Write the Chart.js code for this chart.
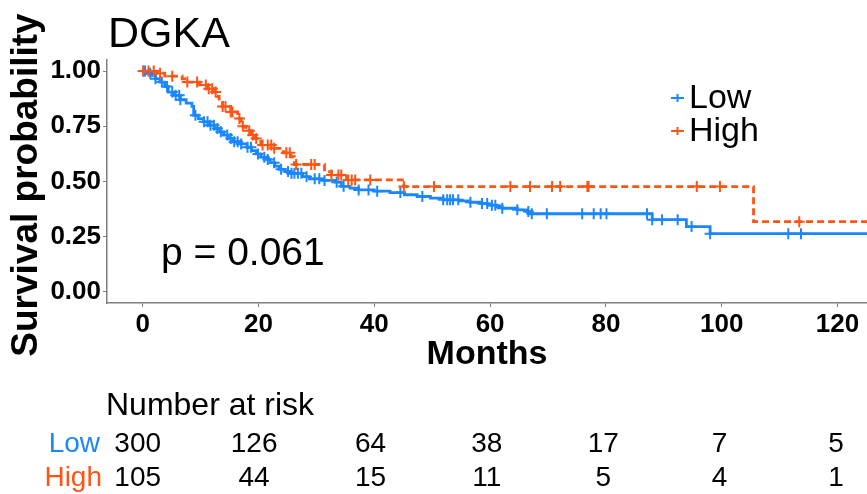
<!DOCTYPE html>
<html>
<head>
<meta charset="utf-8">
<script src="https://cdn.jsdelivr.net/npm/chart.js@4/dist/chart.umd.min.js"></script>
<style>
  html, body { margin: 0; padding: 0; background: #ffffff; overflow: hidden; }
  #wrap { position: relative; width: 867px; height: 494px; }
</style>
</head>
<body>
<div id="wrap"><canvas id="km" width="867" height="494"></canvas></div>
<script>
// ---- Kaplan-Meier data for DGKA expression groups ----
const geneName = 'DGKA';
const pValueLabel = 'p = 0.061';
const groupNames = ['Low', 'High'];

// Low group: event times (months) and survival after each step
const lowTimes = [0, 0.8, 1.5, 2.2, 3, 3.8, 4.4, 5.4, 6.5, 7.5, 8.5, 8.8, 9.6, 10.5, 11.5, 12.4, 13.3, 14, 14.8, 15.6,
  16.8, 18, 18.8, 19.6, 20.4, 21.3, 22, 22.8, 23.6, 24.6, 25.5, 27.6, 28.8, 31, 33.2, 34.3, 35.8, 37.3, 40, 42.7,
  45.2, 47.4, 49.7, 51.9, 54.6, 56.5, 58.3, 59.6, 61.1, 62.1, 64.7, 66.3, 66.9, 88, 93.9, 98, 126];
const lowSurv = [1.0, 0.99, 0.98, 0.965, 0.95, 0.93, 0.905, 0.89, 0.87, 0.855, 0.84, 0.80, 0.785, 0.77, 0.755, 0.74, 0.725, 0.71, 0.695, 0.68,
  0.67, 0.655, 0.64, 0.625, 0.61, 0.60, 0.585, 0.57, 0.555, 0.545, 0.537, 0.522, 0.512, 0.505, 0.497, 0.478, 0.47, 0.462, 0.456, 0.45,
  0.44, 0.432, 0.425, 0.417, 0.412, 0.406, 0.40, 0.393, 0.386, 0.379, 0.372, 0.364, 0.354, 0.327, 0.296, 0.264, 0.264];
const lowCensored = [0.1, 0.4, 1.3, 2.2, 3.3, 4.2, 5.1, 5.7, 6.3, 6.5, 9.1, 10.6, 11.2, 11.7, 12.3, 12.9, 13.5, 14.6, 15.2, 15.8,
  16.4, 17, 18.1, 18.7, 19.9, 21, 21.6, 22.7, 23.9, 25.1, 25.7, 26.2, 26.8, 27.4, 28.3, 29.7, 30.5, 31.4, 33.5, 34.7,
  37.3, 39, 40.5, 44.5, 48.3, 51.9, 52.6, 53.1, 53.6, 54.5, 56.6, 58.6, 59.5, 60.3, 60.9, 62.1, 64.7, 66.6, 67.2, 69.8,
  75.9, 77.9, 79.1, 80.1, 87.1, 88, 89.7, 92.4, 94.8, 98, 111.5, 113.7];

// High group
const highTimes = [0, 2.5, 3.8, 6.8, 7.7, 9.8, 11.2, 12.2, 12.8, 13.2, 13.8, 15.2, 16.4, 17, 17.8, 18.7, 19.3, 20.4, 22.7, 24.3,
  25.6, 26.2, 31.4, 32.6, 35.2, 45.1, 105.5, 126];
const highSurv = [1.0, 0.99, 0.977, 0.965, 0.95, 0.937, 0.92, 0.905, 0.885, 0.865, 0.84, 0.815, 0.785, 0.75, 0.73, 0.71, 0.695, 0.665, 0.65, 0.63,
  0.612, 0.577, 0.545, 0.529, 0.507, 0.477, 0.318, 0.318];
const highCensored = [0.1, 1, 1.9, 3, 5.1, 7.7, 9.4, 10.9, 11.4, 12, 12.6, 13.8, 14.3, 15.2, 15.5, 16.7, 17.3, 18.4, 19, 19.6,
  20.7, 21.6, 22.2, 22.7, 24.8, 25.4, 26.5, 29.1, 29.7, 32.6, 33.8, 34.3, 35.5, 36.1, 36.7, 39.3, 45.1, 50.3,
  63.5, 66.9, 70.7, 72.1, 76.8, 77, 95.7, 99.7, 113.4];

// Axis ticks
const xTicks = [0, 20, 40, 60, 80, 100, 120];
const yTicks = [0, 0.25, 0.5, 0.75, 1.0];

// Number at risk at each x tick
const lowAtRisk = [300, 126, 64, 38, 17, 7, 5];
const highAtRisk = [105, 44, 15, 11, 5, 4, 1];

const lowColor = '#1a87ff';
const highColor = '#ff5514';
const axisColor = '#7f7f7f';
const FONT = "'Liberation Sans', Arial, sans-serif";

// survival value of a step curve at time t
function survAt(times, surv, t) {
  let s = surv[0];
  for (let i = 0; i < times.length; i++) { if (times[i] <= t) s = surv[i]; else break; }
  return s;
}
const toPoints = (xs, ys) => xs.map((x, i) => ({ x: x, y: ys[i] }));
const censorPoints = (cs, times, surv) => cs.map(t => ({ x: t, y: survAt(times, surv, t) }));

const annotations = {
  id: 'kmText',
  afterDraw(chart) {
    const ctx = chart.ctx;
    const xs = chart.scales.x;
    const area = chart.chartArea;
    ctx.save();
    ctx.fillStyle = '#000';
    ctx.textBaseline = 'alphabetic';

    // title
    ctx.font = `43px ${FONT}`;
    ctx.textAlign = 'left';
    ctx.fillText(geneName, 108, 47);

    // p-value
    ctx.font = `39px ${FONT}`;
    ctx.fillText(pValueLabel, 161, 265);

    // y axis title
    ctx.save();
    ctx.translate(37, 185);
    ctx.rotate(-Math.PI / 2);
    ctx.font = `bold 37px ${FONT}`;
    ctx.textAlign = 'center';
    ctx.fillText('Survival probability', 0, 0);
    ctx.restore();

    // x axis title
    ctx.font = `bold 34px ${FONT}`;
    ctx.textAlign = 'center';
    ctx.fillText('Months', (area.left + area.right) / 2, 364);

    // legend
    const legend = [[groupNames[0], lowColor, 98], [groupNames[1], highColor, 131]];
    legend.forEach(([name, col, y]) => {
      ctx.strokeStyle = col;
      ctx.lineWidth = 2;
      ctx.beginPath();
      ctx.moveTo(671, y); ctx.lineTo(684, y);
      ctx.moveTo(677.5, y - 4); ctx.lineTo(677.5, y + 4);
      ctx.stroke();
      ctx.fillStyle = '#000';
      ctx.font = `34px ${FONT}`;
      ctx.textAlign = 'left';
      ctx.textBaseline = 'middle';
      ctx.fillText(name, 689, y + 1);
    });

    // number at risk table (columns follow the time axis)
    ctx.textBaseline = 'alphabetic';
    ctx.font = `32px ${FONT}`;
    ctx.textAlign = 'left';
    ctx.fillStyle = '#000';
    ctx.fillText('Number at risk', 106, 415);

    ctx.font = `28px ${FONT}`;
    ctx.textAlign = 'right';
    ctx.fillStyle = lowColor;
    ctx.fillText(groupNames[0], 100, 452);
    ctx.fillStyle = highColor;
    ctx.fillText(groupNames[1], 102, 486);

    ctx.fillStyle = '#000';
    ctx.textAlign = 'center';
    const x0 = xs.getPixelForValue(0);
    xTicks.forEach((t, i) => {
      const px = x0 - 5 + (xs.getPixelForValue(t) - x0) * 1.005;
      ctx.fillText(String(lowAtRisk[i]), px, 452);
      ctx.fillText(String(highAtRisk[i]), px, 486);
    });
    ctx.restore();
  }
};

new Chart(document.getElementById('km'), {
  type: 'line',
  data: {
    datasets: [
      {
        label: groupNames[0], data: toPoints(lowTimes, lowSurv),
        borderColor: lowColor, borderWidth: 2.8, stepped: 'before', pointRadius: 0, fill: false, clip: false, order: 4
      },
      {
        label: groupNames[0] + ' censored', data: censorPoints(lowCensored, lowTimes, lowSurv),
        showLine: false, pointStyle: 'cross', pointRadius: 5.5, pointBorderWidth: 2,
        borderColor: lowColor, pointBorderColor: lowColor, clip: false, order: 3
      },
      {
        label: groupNames[1], data: toPoints(highTimes, highSurv),
        borderColor: highColor, borderWidth: 2.8, borderDash: [7, 4], stepped: 'before', pointRadius: 0, fill: false, clip: false, order: 2
      },
      {
        label: groupNames[1] + ' censored', data: censorPoints(highCensored, highTimes, highSurv),
        showLine: false, pointStyle: 'cross', pointRadius: 5.5, pointBorderWidth: 2,
        borderColor: highColor, pointBorderColor: highColor, clip: false, order: 1
      }
    ]
  },
  options: {
    responsive: false,
    animation: false,
    devicePixelRatio: 1,
    layout: { autoPadding: false, padding: { top: 60, left: 0, right: 0, bottom: 0 } },
    plugins: { legend: { display: false }, tooltip: { enabled: false }, title: { display: false } },
    scales: {
      x: {
        type: 'linear', min: -6.17, max: 125.1,
        afterFit: s => { s.height = 494 - 303; s.paddingLeft = 0; s.paddingRight = 0; },
        afterBuildTicks: s => { s.ticks = xTicks.map(v => ({ value: v })); },
        border: { display: true, color: axisColor, width: 1.5 },
        grid: { drawOnChartArea: false, drawTicks: true, tickLength: 4, color: axisColor, lineWidth: 1 },
        ticks: { color: '#000', font: { family: FONT, size: 26, weight: 'bold' }, padding: 2, maxRotation: 0,
          callback: v => String(v) }
      },
      y: {
        type: 'linear', min: -0.05, max: 1.05,
        afterFit: s => { s.width = 107; s.paddingTop = 0; s.paddingBottom = 0; },
        afterBuildTicks: s => { s.ticks = yTicks.map(v => ({ value: v })); },
        border: { display: true, color: axisColor, width: 1.5 },
        grid: { drawOnChartArea: false, drawTicks: true, tickLength: 4, color: axisColor, lineWidth: 1 },
        ticks: { color: '#000', font: { family: FONT, size: 26, weight: 'bold' }, padding: 2,
          callback: v => Number(v).toFixed(2) }
      }
    }
  },
  plugins: [annotations]
});
</script>
</body>
</html>
